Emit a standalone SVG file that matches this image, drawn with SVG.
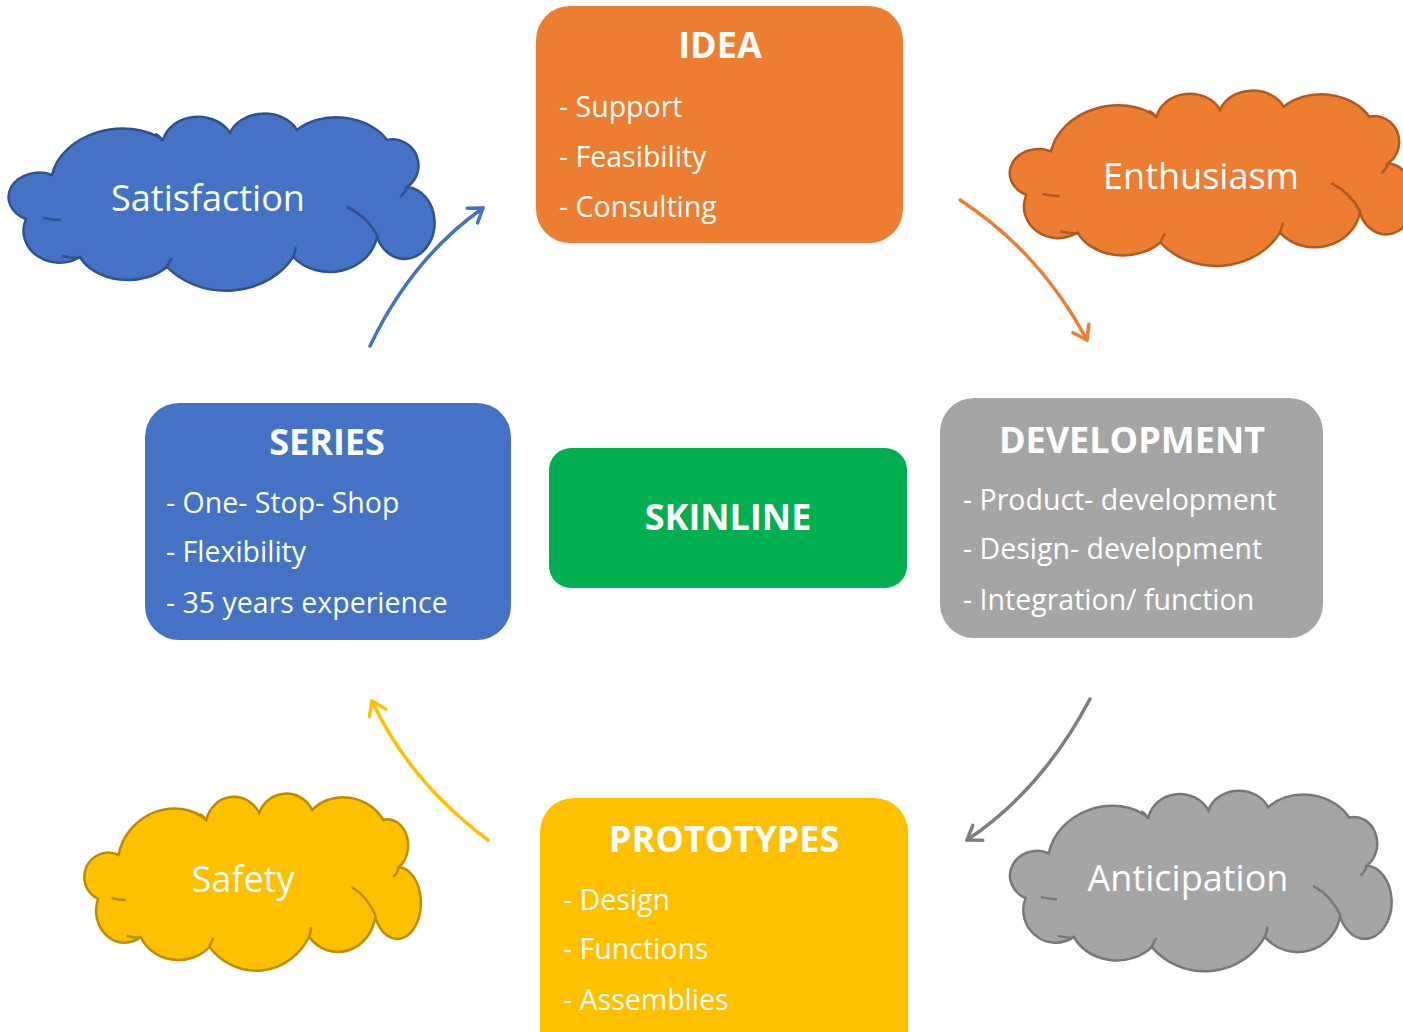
<svg xmlns="http://www.w3.org/2000/svg" xmlns:xlink="http://www.w3.org/1999/xlink" width="1403" height="1032" viewBox="0 0 1403 1032">
<style>
.box text{fill:#fff;font-family:"Open Sans","Liberation Sans",sans-serif}
.title{font-size:36px;font-weight:700;text-anchor:middle}
.item{font-size:28.5px}
.ctext{fill:#fff;font-family:"Open Sans","Liberation Sans",sans-serif;font-size:36px;text-anchor:middle}
.cl{vector-effect:non-scaling-stroke;stroke-width:2.5}
.conn path{fill:none;stroke-width:3.5;stroke-linecap:round}
</style>
<defs>
<path id="cloud" class="cl" d="M40,62 A66,50 -10 0 1 151,27 A36,30 0 0 1 218,20 A36,28 0 0 1 285,17 A54,38 5 0 1 375,27 A26,26 0 0 1 395,74 A30,36 0 1 1 365,124 A48,42 0 0 1 281,144 A76,64 0 0 1 155,154 A52,38 0 0 1 68,144 A36,32 0 0 1 14,106 A30,24 0 1 1 40,62 Z"/>
<path id="cloudin" class="cl" fill="none" d="M143,21 Q148,23 151,28 M335,94 Q356,104 366,124 M395,74 Q393,80 388,84 M281,144 Q283,140 284,134 M155,154 Q157,149 160,145 M50,143 Q60,145 69,145 M31,105 Q40,107 49,107"/>
<marker id="mb" viewBox="-16 -12 20 24" refX="0" refY="0" markerWidth="20" markerHeight="24" markerUnits="userSpaceOnUse" orient="auto"><path d="M-13,-9 L0,0 L-13,9" fill="none" stroke="#4472C4" stroke-width="3.5" stroke-linecap="round" stroke-linejoin="round"/></marker>
<marker id="mo" viewBox="-16 -12 20 24" refX="0" refY="0" markerWidth="20" markerHeight="24" markerUnits="userSpaceOnUse" orient="auto"><path d="M-13,-9 L0,0 L-13,9" fill="none" stroke="#ED7D31" stroke-width="3.5" stroke-linecap="round" stroke-linejoin="round"/></marker>
<marker id="mg" viewBox="-16 -12 20 24" refX="0" refY="0" markerWidth="20" markerHeight="24" markerUnits="userSpaceOnUse" orient="auto"><path d="M-13,-9 L0,0 L-13,9" fill="none" stroke="#7F7F7F" stroke-width="3.5" stroke-linecap="round" stroke-linejoin="round"/></marker>
<marker id="my" viewBox="-16 -12 20 24" refX="0" refY="0" markerWidth="20" markerHeight="24" markerUnits="userSpaceOnUse" orient="auto"><path d="M-13,-9 L0,0 L-13,9" fill="none" stroke="#FFC000" stroke-width="3.5" stroke-linecap="round" stroke-linejoin="round"/></marker>
</defs>
<rect width="1403" height="1032" fill="#fff"/>

<g id="cloud-satisfaction">
<g transform="translate(12,113)" fill="#4472C4" stroke="#2F528F"><use xlink:href="#cloud"/><use xlink:href="#cloudin"/></g>
<text class="ctext" x="208" y="211">Satisfaction</text>
</g>
<g id="cloud-enthusiasm">
<g transform="translate(1013,90) scale(0.95,0.99)" fill="#ED7D31" stroke="#AE5A21"><use xlink:href="#cloud"/><use xlink:href="#cloudin"/></g>
<text class="ctext" x="1201" y="189">Enthusiasm</text>
</g>
<g id="cloud-safety">
<g transform="translate(87,793) scale(0.79,1)" fill="#FFC000" stroke="#BC8C00"><use xlink:href="#cloud"/><use xlink:href="#cloudin"/></g>
<text class="ctext" x="243" y="892">Safety</text>
</g>
<g id="cloud-anticipation">
<g transform="translate(1013,790) scale(0.896,1.02)" fill="#A5A5A5" stroke="#787878"><use xlink:href="#cloud"/><use xlink:href="#cloudin"/></g>
<text class="ctext" x="1188" y="891">Anticipation</text>
</g>

<g id="node-idea" class="box">
<rect x="536" y="6" width="367" height="237" rx="34" fill="#ED7D31"/>
<text class="title" x="720" y="58">IDEA</text>
<text class="item" x="559" y="117">- Support</text>
<text class="item" x="559" y="167">- Feasibility</text>
<text class="item" x="559" y="217">- Consulting</text>
</g>
<g id="node-series" class="box">
<rect x="145" y="403" width="366" height="237" rx="34" fill="#4472C4"/>
<text class="title" x="327" y="455">SERIES</text>
<text class="item" x="166" y="513">- One- Stop- Shop</text>
<text class="item" x="166" y="562">- Flexibility</text>
<text class="item" x="166" y="613">- 35 years experience</text>
</g>
<g id="node-skinline" class="box">
<rect x="549" y="448" width="358" height="140" rx="22" fill="#00B050"/>
<text class="title" x="728" y="530">SKINLINE</text>
</g>
<g id="node-development" class="box">
<rect x="940" y="398" width="383" height="240" rx="34" fill="#A5A5A5"/>
<text class="title" x="1132" y="453">DEVELOPMENT</text>
<text class="item" x="963" y="510">- Product- development</text>
<text class="item" x="963" y="559">- Design- development</text>
<text class="item" x="963" y="610">- Integration/ function</text>
</g>
<g id="node-prototypes" class="box">
<rect x="540" y="798" width="368" height="270" rx="34" fill="#FFC000"/>
<text class="title" x="724" y="852">PROTOTYPES</text>
<text class="item" x="563" y="910">- Design</text>
<text class="item" x="563" y="959">- Functions</text>
<text class="item" x="563" y="1010">- Assemblies</text>
</g>

<g id="connectors" class="conn">
<path d="M370,346 Q412,258 483,208" stroke="#4472C4" marker-end="url(#mb)"/>
<path d="M960,200 Q1040,252 1087,340" stroke="#ED7D31" marker-end="url(#mo)"/>
<path d="M1090,699 Q1042,790 967,840" stroke="#7F7F7F" marker-end="url(#mg)"/>
<path d="M488,840 Q410,782 372,701" stroke="#FFC000" marker-end="url(#my)"/>
</g>
</svg>
